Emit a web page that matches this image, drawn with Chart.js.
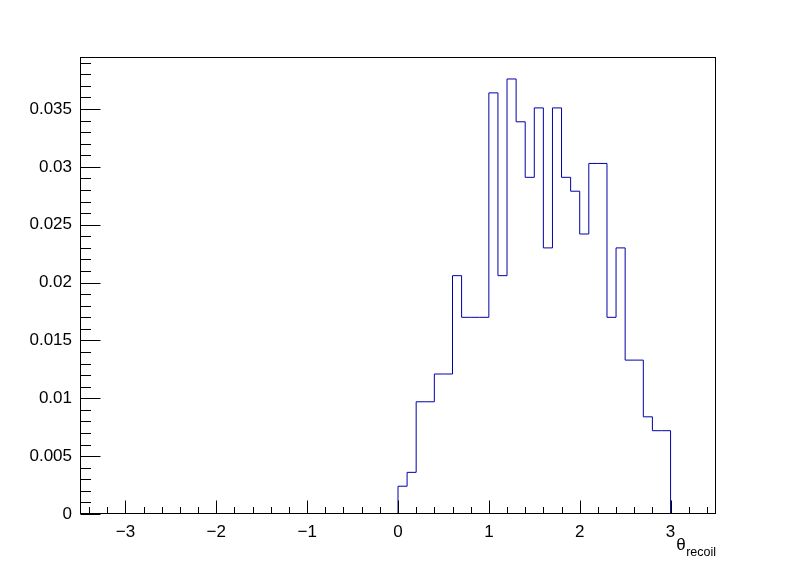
<!DOCTYPE html>
<html>
<head>
<meta charset="utf-8">
<script src="https://cdn.jsdelivr.net/npm/chart.js@4.4.1/dist/chart.umd.min.js"></script>
<style>
  html, body { margin: 0; padding: 0; background: #fff; }
  canvas { display: block; }
</style>
</head>
<body>
<canvas id="hist" width="796" height="572"></canvas>
<script>
// bin edges of the theta_recoil histogram
const binEdges = [0.0, 0.1, 0.2, 0.3, 0.4, 0.5, 0.6, 0.7, 0.8, 0.9, 1.0,
                  1.1, 1.2, 1.3, 1.4, 1.5, 1.6, 1.7, 1.8, 1.9, 2.0,
                  2.1, 2.2, 2.3, 2.4, 2.5, 2.6, 2.7, 2.8, 2.9, 3.0];
// bin contents (normalised)
const binValues = [0.0024, 0.0036, 0.0097, 0.0097, 0.0121, 0.0121, 0.0206, 0.0170, 0.0170, 0.0170,
                   0.0364, 0.0206, 0.0376, 0.0339, 0.0291, 0.0351, 0.0230, 0.0351, 0.0291, 0.0279,
                   0.0242, 0.0303, 0.0303, 0.0170, 0.0230, 0.0133, 0.0133, 0.0084, 0.0072, 0.0072];
const xRange = [-3.5, 3.5];
const yRange = [0, 0.0395];
const xTickValues = [-3, -2, -1, 0, 1, 2, 3];
const yTickValues = [0, 0.005, 0.01, 0.015, 0.02, 0.025, 0.03, 0.035];
const xTitle = "\u03B8";
const xTitleSub = "recoil";

const FONT = '"Liberation Sans", Arial, Helvetica, sans-serif';

// histogram outline as step points
let points = [{x: binEdges[0], y: 0}];
binValues.forEach(function (v, i) {
    points.push({x: binEdges[i], y: v});
});
points.push({x: binEdges[binEdges.length - 1], y: binValues[binValues.length - 1]});
points.push({x: binEdges[binEdges.length - 1], y: 0});

function fmtNum(v) {
    const s = String(parseFloat(v.toFixed(4)));
    return v < 0 ? '\u2212' + s.slice(1) : s;
}

// ROOT-like frame, inward ticks and axis title
const rootFrame = {
    id: 'rootFrame',
    afterDraw(chart) {
        const ctx = chart.ctx;
        const a = chart.chartArea;
        const xs = chart.scales.x;
        const ys = chart.scales.y;
        const L = Math.round(a.left) + 0.5, R = Math.round(a.right) - 0.5;
        const T = Math.round(a.top) + 0.5, B = Math.round(a.bottom) - 0.5;
        ctx.save();
        ctx.strokeStyle = '#000';
        ctx.lineWidth = 1;
        ctx.strokeRect(L, T, R - L, B - T);

        ctx.beginPath();
        // x ticks: major every 1, minor every 0.2
        for (let k = -17; k <= 17; k++) {
            const px = Math.round(xs.getPixelForValue(k * 0.2)) + 0.5;
            const len = (k % 5 === 0) ? 13 : 6.5;
            ctx.moveTo(px, B);
            ctx.lineTo(px, B - len);
        }
        // y ticks: major every 0.005, minor every 0.001
        for (let k = 0; k <= 39; k++) {
            const py = Math.round(ys.getPixelForValue(k * 0.001)) + 0.5;
            const len = (k % 5 === 0) ? 20 : 10.5;
            ctx.moveTo(L, py);
            ctx.lineTo(L + len, py);
        }
        ctx.stroke();

        // axis title with subscript
        ctx.fillStyle = '#000';
        ctx.textAlign = 'right';
        ctx.textBaseline = 'alphabetic';
        ctx.font = '12.5px ' + FONT;
        const subW = ctx.measureText(xTitleSub).width;
        ctx.fillText(xTitleSub, a.right, 556);
        ctx.font = '17px ' + FONT;
        ctx.fillText(xTitle, a.right - subW - 0.5, 550);
        ctx.restore();
    }
};

const ctx = document.getElementById('hist').getContext('2d');
new Chart(ctx, {
    type: 'line',
    data: {
        datasets: [{
            data: points,
            borderColor: '#0000a8',
            borderWidth: 1,
            stepped: true,
            fill: false,
            pointRadius: 0,
            tension: 0
        }]
    },
    options: {
        responsive: false,
        animation: false,
        events: [],
        layout: {padding: {left: 0, top: 57, right: 80, bottom: 0}},
        plugins: {legend: {display: false}, tooltip: {enabled: false}},
        scales: {
            x: {
                type: 'linear',
                min: xRange[0],
                max: xRange[1],
                grid: {display: false},
                border: {display: false},
                afterBuildTicks: s => { s.ticks = xTickValues.map(v => ({value: v})); },
                ticks: {
                    maxRotation: 0,
                    autoSkip: false,
                    padding: 0,
                    color: '#000',
                    font: {family: FONT, size: 17},
                    callback: v => fmtNum(v)
                },
                afterFit: s => { s.height = 58; }
            },
            y: {
                type: 'linear',
                min: yRange[0],
                max: yRange[1],
                grid: {display: false},
                border: {display: false},
                afterBuildTicks: s => { s.ticks = yTickValues.map(v => ({value: v})); },
                ticks: {
                    autoSkip: false,
                    padding: 0,
                    color: '#000',
                    font: {family: FONT, size: 17},
                    callback: v => fmtNum(v)
                },
                afterFit: s => { s.width = 80; }
            }
        }
    },
    plugins: [rootFrame]
});
</script>
</body>
</html>
